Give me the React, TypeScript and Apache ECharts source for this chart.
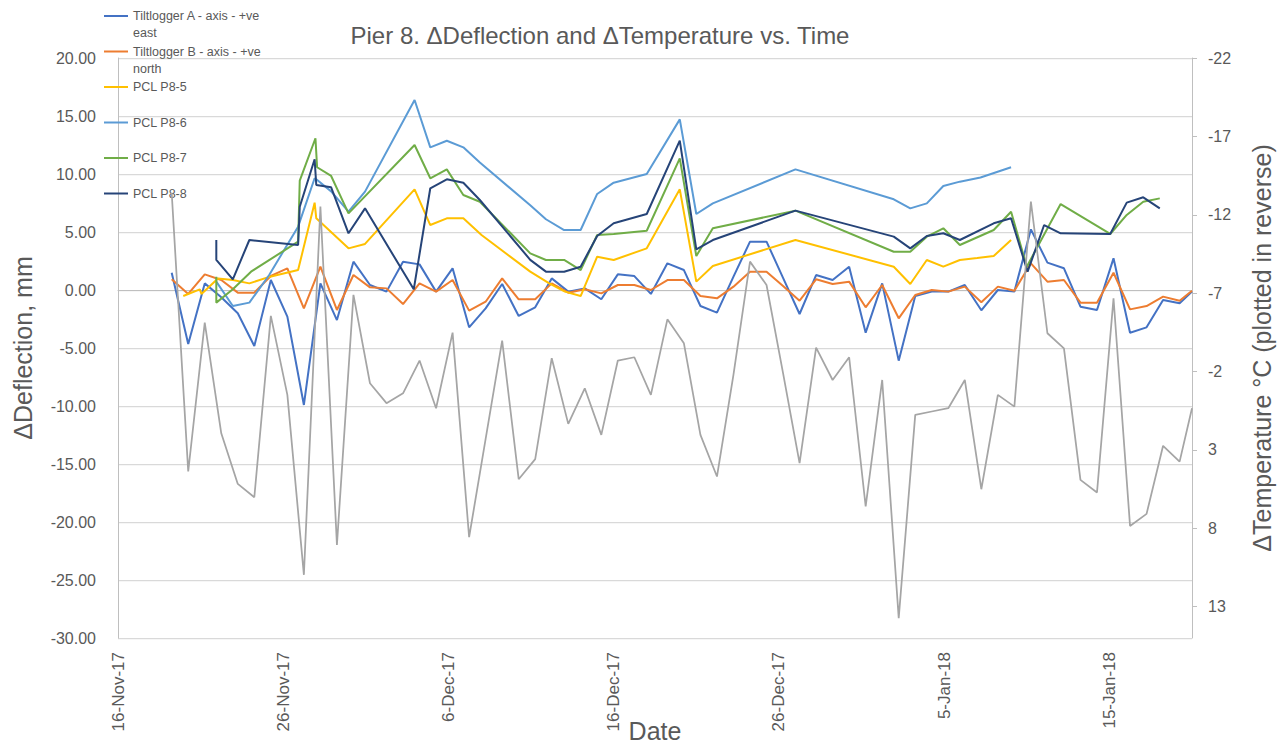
import React, { useEffect, useRef } from 'react';
import * as echarts from 'echarts';

// ---- time reference (days are counted from 16-Nov-17, 00:00) ----
const START_DATE = Date.UTC(2017, 10, 16);
const DAY_MS = 86400000;
const MONTHS = ['Jan', 'Feb', 'Mar', 'Apr', 'May', 'Jun', 'Jul', 'Aug', 'Sep', 'Oct', 'Nov', 'Dec'];

const xTickDays = [0, 10, 20, 30, 40, 50, 60];
const xMaxDay = 65;
const tempTickLabels = [-22, -17, -12, -7, -2, 3, 8, 13];

// ---- daily tiltlogger / temperature readings ----
const loggerDays = [
  3.25, 4.25, 5.25, 6.25, 7.25, 8.25, 9.25, 10.25, 11.25, 12.25, 13.25, 14.25, 15.25, 16.25, 17.25, 18.25,
  19.25, 20.25, 21.25, 22.25, 23.25, 24.25, 25.25, 26.25, 27.25, 28.25, 29.25, 30.25, 31.25, 32.25, 33.25,
  34.25, 35.25, 36.25, 37.25, 38.25, 39.25, 40.25, 41.25, 42.25, 43.25, 44.25, 45.25, 46.25, 47.25, 48.25,
  49.25, 50.25, 51.25, 52.25, 53.25, 54.25, 55.25, 56.25, 57.25, 58.25, 59.25, 60.25, 61.25, 62.25, 63.25,
  64.25, 65.0,
];
const tiltA = [
  1.49, -4.66, 0.57, -0.63, -2.01, -4.83, 0.86, -2.3, -9.91, 0.57, -2.59, 2.44, 0.43, -0.14, 2.44, 2.21,
  -0.14, 1.87, -3.22, -1.58, 0.52, -2.24, -1.49, 1.0, -0.14, 0.14, -0.8, 1.35, 1.2, -0.34, 2.3, 1.72, -1.38,
  -1.95, 1.15, 4.17, 4.17, 1.05, -2.07, 1.29, 0.86, 2.01, -3.68, 0.57, -6.09, -0.52, -0.14, -0.14, 0.43,
  -1.75, 0.0, -0.14, 5.23, 2.36, 1.87, -1.44, -1.72, 2.73, -3.68, -3.22, -0.86, -1.15, -0.14,
];
const tiltB = [
  0.92, -0.34, 1.35, 0.86, -0.23, -0.23, 1.21, 1.87, -1.58, 2.01, -1.72, 1.29, 0.23, 0.14, -1.21, 0.57,
  -0.14, 0.86, -1.78, -1.01, 1.0, -0.8, -0.8, 0.57, -0.23, 0.06, -0.29, 0.43, 0.43, 0.0, 0.86, 0.86, -0.52,
  -0.72, 0.29, 1.58, 1.58, 0.34, -0.92, 0.92, 0.52, 0.72, -1.49, 0.43, -2.44, -0.43, 0.0, -0.14, 0.29,
  -1.05, 0.29, -0.06, 2.3, 0.72, 0.86, -1.09, -1.09, 1.49, -1.67, -1.38, -0.57, -0.92, -0.06,
];
const tempDelta = [
  -13.4, 4.38, -5.12, 1.94, 5.17, 6.02, -5.55, -0.51, 10.97, -12.52, 9.06, -6.89, -1.25, 0.02, -0.61, -2.7,
  0.34, -4.48, 8.57, 2.3, -3.97, 4.87, 3.59, -2.85, 1.34, -0.93, 2.04, -2.7, -2.91, -0.51, -5.33, -3.8, 2.04,
  4.7, -1.8, -9.01, -7.52, -1.9, 3.85, -3.53, -1.46, -2.91, 6.61, -1.46, 13.73, 0.77, 0.55, 0.34, -1.46,
  5.51, -0.51, 0.24, -12.84, -4.44, -3.48, 4.91, 5.72, -6.67, 7.85, 7.08, 2.74, 3.75, 0.34,
];

// ---- PCL survey readings ----
const p85Days = [
  3.95, 4.95, 5.05, 6.05, 6.95, 7.95, 9.2, 10.9, 11.9, 12.0, 13.95, 14.95, 17.95, 18.9, 19.9, 20.9, 22.0,
  24.95, 26.1, 27.05, 28.0, 29.0, 30.0, 32.0, 34.0, 35.0, 36.0, 41.0, 46.95, 47.95, 48.95, 49.95, 50.95,
  52.0, 53.0, 54.05,
];
const p85 = [
  -0.52, 0.06, -0.34, 1.0, 0.86, 0.57, 1.15, 1.72, 7.53, 6.18, 3.59, 3.97, 8.68, 5.6, 6.18, 6.18, 4.74,
  1.58, 0.57, -0.14, -0.52, 2.87, 2.59, 3.59, 8.68, 0.72, 2.07, 4.31, 2.01, 0.52, 2.59, 2.01, 2.59, 2.75,
  2.93, 4.31,
];
const p86Days = [
  5.95, 6.95, 7.95, 9.15, 10.9, 11.9, 12.0, 12.9, 13.95, 14.95, 17.95, 18.9, 19.9, 20.9, 21.9, 24.95,
  25.9, 27.0, 28.0, 29.0, 30.0, 32.0, 34.0, 35.0, 36.0, 41.0, 46.95, 47.95, 48.95, 49.95, 50.95, 52.2,
  54.05,
];
const p86 = [
  0.72, -1.38, -1.09, 1.29, 5.46, 9.63, 9.54, 8.5, 6.75, 8.48, 16.38, 12.3, 12.87, 12.3, 11.0, 7.3, 6.1,
  5.17, 5.17, 8.28, 9.25, 10.0, 14.71, 6.55, 7.47, 10.4, 7.82, 7.04, 7.47, 8.97, 9.34, 9.7, 10.58,
];
const p87Days = [
  5.95, 5.95, 6.95, 8.05, 10.9, 11.0, 11.95, 12.05, 12.9, 13.95, 17.95, 18.9, 19.9, 20.9, 21.9, 24.95,
  25.9, 27.0, 28.0, 29.0, 30.0, 32.0, 34.0, 35.0, 36.0, 41.0, 46.95, 47.95, 48.95, 49.95, 50.95, 53.0,
  54.05, 55.0, 57.05, 60.05, 61.05, 62.05, 63.05,
];
const p87 = [
  1.15, -1.09, 0.06, 1.58, 4.17, 9.43, 13.08, 10.58, 9.83, 6.61, 12.5, 9.63, 10.4, 8.19, 7.61, 3.16, 2.59,
  2.59, 1.72, 4.74, 4.83, 5.11, 11.35, 2.93, 5.32, 6.84, 3.3, 3.3, 4.6, 5.32, 3.88, 5.17, 6.75, 2.01, 7.41,
  4.83, 6.47, 7.61, 7.9,
];
const p88Days = [
  5.95, 5.95, 6.95, 7.95, 10.9, 11.0, 11.9, 12.0, 12.9, 13.95, 14.95, 17.9, 18.9, 19.9, 20.9, 21.9, 24.95,
  25.9, 27.0, 28.0, 29.0, 30.0, 32.0, 34.0, 35.0, 36.0, 41.0, 46.95, 47.95, 48.95, 49.95, 50.95, 53.0,
  54.05, 55.05, 56.05, 57.05, 60.05, 61.05, 62.05, 63.05,
];
const p88 = [
  4.31, 2.59, 0.92, 4.31, 3.88, 7.18, 11.27, 9.05, 8.85, 4.89, 7.04, 0.06, 8.77, 9.54, 9.25, 7.76, 2.6,
  1.58, 1.58, 2.01, 4.66, 5.75, 6.55, 12.87, 3.51, 4.31, 6.84, 4.6, 3.59, 4.66, 4.89, 4.31, 5.75, 6.18,
  1.58, 5.6, 4.89, 4.83, 7.53, 7.99, 7.04,
];

const seriesNames = [
  'Tiltlogger A - axis - +ve east',
  'Tiltlogger B - axis - +ve north',
  'PCL P8-5',
  'PCL P8-6',
  'PCL P8-7',
  'PCL P8-8',
];
const seriesColors = ['#4472C4', '#ED7D31', '#FFC000', '#5B9BD5', '#70AD47', '#264478'];
const tempName = 'ΔTemperature';
const tempColor = '#A5A5A5';

const FONT = "'Liberation Sans', Arial, sans-serif";
const TEXT = '#595959';

const toPoints = (days: number[], vals: number[]) =>
  days.map((d, i) => [START_DATE + d * DAY_MS, vals[i]]);

const fmtDate = (v: number) => {
  const dt = new Date(v);
  return `${dt.getUTCDate()}-${MONTHS[dt.getUTCMonth()]}-${String(dt.getUTCFullYear()).slice(2)}`;
};

// legend labels: wrapped like the original, padded to three text lines so all items share one height
const legendLabel = (name: string) => {
  const wrapped = name.replace('+ve ', '+ve\n');
  return wrapped.includes('\n') ? '\n' + wrapped : '\n' + wrapped + '\n';
};

export default function App() {
  const ref = useRef<HTMLDivElement>(null);
  useEffect(() => {
    document.body.style.margin = '0';
    if (!ref.current) return;
    const chart = echarts.init(ref.current, undefined, { renderer: 'svg' });
    const dataSets = [
      toPoints(loggerDays, tiltA),
      toPoints(loggerDays, tiltB),
      toPoints(p85Days, p85),
      toPoints(p86Days, p86),
      toPoints(p87Days, p87),
      toPoints(p88Days, p88),
    ];
    const series: any[] = seriesNames.map((name, i) => ({
      name,
      type: 'line',
      data: dataSets[i],
      symbol: 'none',
      showSymbol: false,
      color: seriesColors[i],
      lineStyle: { color: seriesColors[i], width: 2 },
      clip: true,
      z: 3,
    }));
    series.push({
      name: tempName,
      type: 'line',
      yAxisIndex: 1,
      data: toPoints(loggerDays, tempDelta),
      symbol: 'none',
      showSymbol: false,
      color: tempColor,
      lineStyle: { color: tempColor, width: 1.75 },
      clip: true,
      z: 4,
    });
    const xTicks = xTickDays.map((d) => START_DATE + d * DAY_MS);
    chart.setOption({
      animation: false,
      textStyle: { fontFamily: FONT },
      title: {
        text: 'Pier 8. ΔDeflection and ΔTemperature vs. Time',
        left: 600,
        top: 23,
        textAlign: 'center',
        padding: 0,
        textStyle: { fontFamily: FONT, fontSize: 24, fontWeight: 'normal', color: TEXT },
      },
      legend: {
        orient: 'vertical',
        left: 104,
        top: -9.5,
        padding: 0,
        itemGap: -15.5,
        itemWidth: 24,
        itemHeight: 2,
        icon: 'rect',
        selectedMode: false,
        formatter: legendLabel,
        textStyle: { fontFamily: FONT, fontSize: 12.5, color: TEXT, lineHeight: 17 },
        data: seriesNames,
      },
      grid: { left: 118, right: 91, top: 58, bottom: 109, containLabel: false, outerBoundsMode: 'none' },
      xAxis: {
        type: 'value',
        min: START_DATE,
        max: START_DATE + xMaxDay * DAY_MS,
        name: 'Date',
        nameLocation: 'middle',
        nameGap: 80,
        nameMoveOverlap: false,
        nameTextStyle: { fontFamily: FONT, fontSize: 25, color: TEXT },
        axisLine: { show: true, lineStyle: { color: '#BFBFBF', width: 1 } },
        axisTick: { show: false, customValues: xTicks },
        splitLine: { show: false },
        axisLabel: {
          customValues: xTicks,
          rotate: 90,
          margin: 14,
          fontSize: 17,
          color: TEXT,
          fontFamily: FONT,
          formatter: (v: number) => fmtDate(v),
        },
      },
      yAxis: [
        {
          type: 'value',
          min: -30,
          max: 20,
          interval: 5,
          name: 'ΔDeflection, mm',
          nameLocation: 'middle',
          nameGap: 83,
          nameRotate: 90,
          nameMoveOverlap: false,
          nameTextStyle: { fontFamily: FONT, fontSize: 25, color: TEXT },
          axisLine: { show: true, lineStyle: { color: '#BFBFBF', width: 1 } },
          axisTick: { show: false },
          splitLine: { show: true, lineStyle: { color: '#D9D9D9', width: 1.25 } },
          axisLabel: {
            margin: 22,
            fontSize: 16,
            color: TEXT,
            fontFamily: FONT,
            formatter: (v: number) => v.toFixed(2),
          },
        },
        {
          type: 'value',
          min: -22,
          max: 15,
          inverse: true,
          position: 'right',
          name: 'ΔTemperature °C (plotted in reverse)',
          nameLocation: 'middle',
          nameGap: 57,
          nameRotate: 90,
          nameMoveOverlap: false,
          nameTextStyle: { fontFamily: FONT, fontSize: 25, color: TEXT },
          axisLine: { show: true, lineStyle: { color: '#BFBFBF', width: 1 } },
          axisTick: { show: true, inside: false, length: 5, customValues: tempTickLabels, lineStyle: { color: '#BFBFBF' } },
          splitLine: { show: false },
          axisLabel: {
            customValues: tempTickLabels,
            margin: 16,
            fontSize: 16,
            color: TEXT,
            fontFamily: FONT,
          },
        },
      ],
      series,
    });
    return () => chart.dispose();
  }, []);
  return <div ref={ref} style={{ width: 1283, height: 747 }} />;
}
